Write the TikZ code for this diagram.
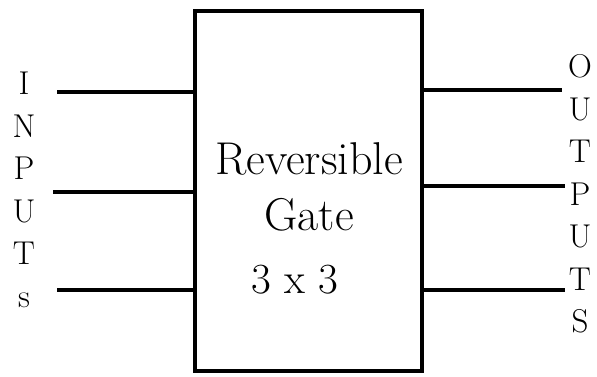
\documentclass[tikz,border=0pt]{standalone}
\usetikzlibrary{positioning,calc}
\tikzset{
   every path/.style={>=stealth},
   gate/.style={draw,line width=4pt,minimum width=227pt,minimum height=360pt,inner sep=0pt},
   wire/.style={-,line width=4.5pt},
   letters/.style={align=center,inner sep=0pt,font=\rmfamily\fontsize{33}{42.5}\selectfont},
   gatetext/.style={align=center,inner sep=0pt,font=\rmfamily\fontsize{46}{56}\selectfont},
   sizetext/.style={inner sep=0pt,font=\rmfamily\fontsize{43}{50}\selectfont},
}
\begin{document}
\begin{tikzpicture}[x=1pt,y=-1pt]
      \useasboundingbox (0,0) rectangle (597,376);

      \node (gate) [gate] at (308.5,191) {};

      \node (name) [gatetext] at (309,187) {Reversible\\Gate};
      \node (size) [sizetext] at (295,280) {3 x 3};

      \node (inlbl) [letters] at (24,190) {I\\N\\P\\U\\T\\s};
      \node (outlbl) [letters] at (580,194) {O\\U\\T\\P\\U\\T\\S};

      % input wires
      \coordinate (ia) at (57,92);
      \coordinate (ib) at (53,192);
      \coordinate (ic) at (57,290);
      \draw[wire] (ia) -- ($(gate.west |- ia)+(3,0)$);
      \draw[wire] (ib) -- (gate.west |- ib);
      \draw[wire] (ic) -- (gate.west |- ic);

      % output wires
      \coordinate (oa) at (562,90);
      \coordinate (ob) at (565,186);
      \coordinate (oc) at (565,290);
      \draw[wire] (gate.east |- oa) -- (oa);
      \draw[wire] (gate.east |- ob) -- (ob);
      \draw[wire] (gate.east |- oc) -- (oc);
\end{tikzpicture}
\end{document}
